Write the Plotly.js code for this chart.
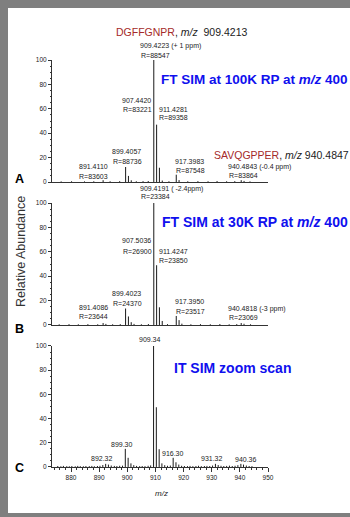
<!DOCTYPE html>
<html><head><meta charset="utf-8">
<script src="https://cdn.plot.ly/plotly-3.0.1.min.js"></script>
<style>
html,body{margin:0;padding:0;background:#7f7f7f;width:350px;height:517px;overflow:hidden}
#chart{position:absolute;left:8px;top:8px;width:342px;height:505px;background:#fff}
</style></head><body><div id="chart"></div>
<script>
// ---------------- DATA ----------------
// Panel A: FT SIM at 100K RP
const mzA  = [876.5, 880.2, 884.8, 888.1, 891.41, 893.9, 897.3, 899.41, 900.41, 901.41, 903.2, 905.6, 907.44, 909.42, 910.42, 911.42, 912.43, 914.8, 917.40, 918.40, 921.5, 925.1, 928.7, 931.9, 935.3, 938.2, 940.48, 941.49, 943.6];
const intA = [0.5,   0.6,   0.5,   0.6,   1.5,    0.6,   0.7,   12.3,   5.0,    1.4,    0.6,   0.7,   0.8,    100,    47,     11.7,   1.2,    0.6,   6.0,    1.6,    0.6,   0.7,   0.6,   0.8,   0.6,   0.7,   1.5,    0.9,    0.5];
// Panel B: FT SIM at 30K RP
const mzB  = [875.8, 879.3, 882.6, 886.0, 889.5, 891.41, 892.4, 894.8, 897.5, 899.40, 900.40, 901.40, 902.4, 905.0, 907.50, 909.42, 910.42, 911.42, 912.42, 914.3, 917.40, 918.40, 919.4, 922.6, 926.0, 929.5, 932.9, 936.2, 938.9, 940.48, 941.48, 943.8];
const intB = [0.6,   0.7,   0.6,   0.7,   0.6,   1.6,    0.9,   0.6,   0.7,   13.5,   7.0,    2.3,    0.9,   0.6,   0.8,    100,    49,     14.5,   3.3,    0.7,   7.4,    4.0,    1.1,   0.6,   0.7,   0.6,   0.8,   0.6,   0.7,   1.6,    1.0,    0.6];
// Panel C: IT SIM zoom scan
const mzC  = [875.3, 876.4, 877.3, 878.5, 879.4, 880.3, 881.5, 882.4, 883.3, 884.4, 885.3, 886.5, 887.4, 888.3, 889.4, 890.3, 891.3, 892.32, 893.3, 894.3, 895.4, 896.3, 897.3, 898.3, 899.30, 900.30, 901.30, 902.3, 903.3, 904.4, 905.3, 906.3, 907.4, 908.3, 909.34, 910.32, 911.33, 912.3, 913.3, 914.3, 915.3, 916.30, 917.3, 918.3, 919.3, 920.3, 921.4, 922.3, 923.3, 924.4, 925.3, 926.3, 927.4, 928.3, 929.3, 930.3, 931.32, 932.3, 933.3, 934.3, 935.3, 936.3, 937.3, 938.3, 939.3, 940.36, 941.3, 942.3, 943.3, 944.3];
const intC = [0.8,   0.6,   0.9,   0.7,   0.6,   0.8,   0.6,   0.9,   0.7,   0.6,   0.8,   0.7,   0.9,   0.6,   0.8,   1.0,   1.6,   2.6,    2.0,   1.2,   0.9,   0.8,   1.0,   1.1,   15.0,   7.6,    3.0,    1.5,   0.9,   0.7,   0.8,   0.7,   1.0,   1.3,   100,    49.4,   14.7,   3.0,   1.5,   1.0,   1.2,   7.6,    3.9,   2.0,   1.0,   0.8,   0.7,   0.9,   0.7,   0.8,   1.0,   0.7,   0.8,   0.9,   0.8,   1.2,   2.6,    1.6,   1.0,   0.8,   0.9,   1.1,   0.8,   1.0,   1.5,   2.6,    2.0,   1.2,   0.8,   0.7];

const xTicks = [880, 890, 900, 910, 920, 930, 940, 950];
const yTicks = [0, 20, 40, 60, 80, 100];

// peak label texts (two lines each for FT panels)
const labelsA = [
  ["909.4223 (+ 1 ppm)", "R=88547"],
  ["907.4420", "R=83221"],
  ["911.4281", "R=89358"],
  ["899.4057", "R=88736"],
  ["891.4110", "R=83603"],
  ["917.3983", "R=87548"],
  ["940.4843 (-0.4 ppm)", "R=83864"]
];
const labelsB = [
  ["909.4191 ( -2.4ppm)", "R=23384"],
  ["907.5036", "R=26900"],
  ["911.4247", "R=23850"],
  ["899.4023", "R=24370"],
  ["891.4086", "R=23644"],
  ["917.3950", "R=23517"],
  ["940.4818 (-3 ppm)", "R=23069"]
];
const labelsC = ["909.34", "899.30", "892.32", "916.30", "931.32", "940.36"];

const pep1 = ["DGFFGNPR", "909.4213"];
const pep2 = ["SAVQGPPER", "940.4847"];
const modeA = "FT SIM at 100K RP at <i>m/z</i> 400";
const modeB = "FT SIM at 30K RP at <i>m/z</i> 400";
const modeC = "IT SIM zoom scan";

// ---------------- LAYOUT / STYLE ----------------
const FONT = "Liberation Sans, Arial, Helvetica, sans-serif";
const BLUE = "#1010ee";
const RED = "#a52a2a";
// page-pixel -> paper fraction (plot area: x 52..268, y 60..467 on page)
const fx = p => (p - 52) / 216;
const fy = p => (467 - p) / 407;

function sticks(mz, inten) {
  const x = [], y = [];
  mz.forEach((m, i) => { x.push(m, m, null); y.push(0, inten[i], null); });
  return {x, y};
}
const line = {color: "#1a1a1a", width: 1};
const sA = sticks(mzA, intA), sB = sticks(mzB, intB), sC = sticks(mzC, intC);
const data = [
  {type: "scatter", mode: "lines", x: sA.x, y: sA.y, xaxis: "x", yaxis: "y", line, hoverinfo: "skip"},
  {type: "scatter", mode: "lines", x: sB.x, y: sB.y, xaxis: "x2", yaxis: "y2", line, hoverinfo: "skip"},
  {type: "scatter", mode: "lines", x: sC.x, y: sC.y, xaxis: "x3", yaxis: "y3", line, hoverinfo: "skip"}
];

const xRange = [873.25, 950];
const xBase = {range: xRange, showline: true, linecolor: "#333", linewidth: 1, showgrid: false, zeroline: false, ticks: "", showticklabels: false, fixedrange: true};
const yBase = d => ({domain: d, range: [0, 100], showline: true, linecolor: "#333", linewidth: 1, showgrid: false, zeroline: false,
  tickmode: "array", tickvals: yTicks, ticks: "outside", ticklen: 3, tickwidth: 1, tickcolor: "#333",
  minor: {dtick: 5, tick0: 0, ticks: "outside", ticklen: 1.5, tickcolor: "#333"},
  tickfont: {family: FONT, size: 6.5, color: "#222"}, fixedrange: true});

const ann = [];
function add(text, px, py, size, opts) {
  ann.push(Object.assign({text, x: fx(px), y: fy(py), xref: "paper", yref: "paper", showarrow: false,
    xanchor: "left", yanchor: "middle", font: {family: FONT, size, color: "#222"}, borderpad: 0}, opts || {}));
}
// Titles
add('<span style="color:' + RED + '">' + pep1[0] + '</span>, <i>m/z</i>  ' + pep1[1], 181, 32, 10.5, {xanchor: "center"});
add('<span style="color:' + RED + '">' + pep2[0] + '</span>, <i>m/z</i> ' + pep2[1], 213, 154.5, 10.5);
// mode labels
add(modeA, 160, 80, 13.5, {font: {family: FONT, size: 13.5, color: BLUE, weight: "bold"}});
add(modeB, 161, 222, 14, {font: {family: FONT, size: 14, color: BLUE, weight: "bold"}});
add(modeC, 173, 368, 14, {font: {family: FONT, size: 14, color: BLUE, weight: "bold"}});
// panel letters
add("<b>A</b>", 14, 179, 12.5, {font: {family: FONT, size: 12.5, color: "#000"}});
add("<b>B</b>", 14, 329, 12.5, {font: {family: FONT, size: 12.5, color: "#000"}});
add("<b>C</b>", 14, 468, 12.5, {font: {family: FONT, size: 12.5, color: "#000"}});
// FT peak labels: [left x, first line y, second line y]
const posA = [[139, 46, 55], [121, 100, 109], [157.5, 109.3, 118], [111, 151.7, 161.7], [77.5, 166.3, 176.7], [174, 161.3, 170.7], [227, 167.3, 175.5]];
const posB = [[139, 189.3, 196.5], [121, 241, 251], [157.5, 251, 260.7], [111, 293.3, 303], [77.5, 307.7, 316.3], [174, 301.7, 311], [227, 308.7, 317.3]];
labelsA.forEach((l, i) => { add(l[0], posA[i][0], posA[i][1], 7); add(l[1], posA[i][0] + 0.5, posA[i][2], 7); });
labelsB.forEach((l, i) => { add(l[0], posB[i][0], posB[i][1], 7); add(l[1], posB[i][0] + 0.5, posB[i][2], 7); });
// IT labels: [center x, y]
const posC = [[149.5, 340], [122, 444], [101.5, 458], [172.5, 453], [212, 458], [246, 459]];
labelsC.forEach((t, i) => add(t, posC[i][0], posC[i][1], 7, {xanchor: "center"}));
// axis titles
add("<i>m/z</i>", 161.5, 493, 8, {xanchor: "center"});
add("Relative Abundance", 21, 252, 12.5, {xanchor: "center", textangle: -90, font: {family: FONT, size: 12.5, color: "#333"}});

const layout = {
  width: 342, height: 505,
  margin: {l: 44, r: 82, t: 52, b: 46, pad: 0},
  paper_bgcolor: "#ffffff", plot_bgcolor: "rgba(0,0,0,0)",
  showlegend: false,
  xaxis: Object.assign({}, xBase, {anchor: "y"}),
  xaxis2: Object.assign({}, xBase, {anchor: "y2"}),
  xaxis3: Object.assign({}, xBase, {anchor: "y3", ticks: "outside", ticklen: 4, tickwidth: 1, tickcolor: "#333",
    tickmode: "array", tickvals: xTicks, showticklabels: true,
    minor: {tickmode: "linear", tick0: 880, dtick: 2, ticks: "outside", ticklen: 2, tickcolor: "#333"},
    tickfont: {family: FONT, size: 6.5, color: "#222"}}),
  yaxis: yBase([0.7002, 1]),
  yaxis2: yBase([0.3489, 0.6486]),
  yaxis3: yBase([0, 0.2973]),
  annotations: ann
};
layout.yaxis.anchor = "x"; layout.yaxis2.anchor = "x2"; layout.yaxis3.anchor = "x3";

Plotly.newPlot("chart", data, layout, {displayModeBar: false, staticPlot: true});
</script></body></html>
